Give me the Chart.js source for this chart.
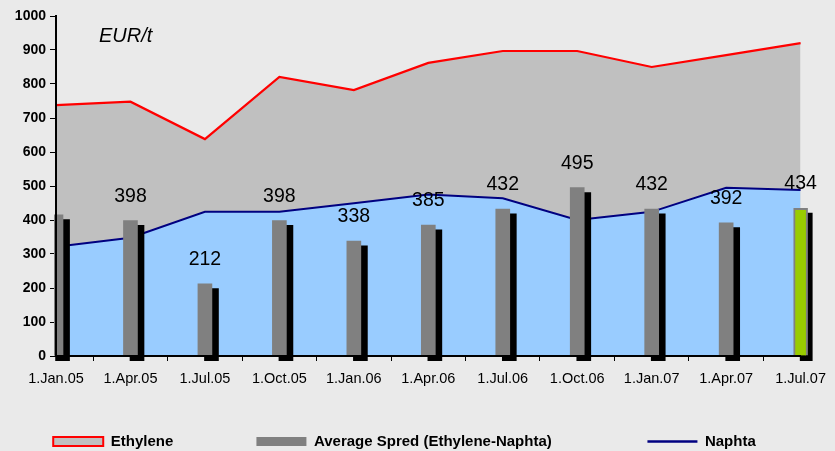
<!DOCTYPE html>
<html>
<head>
<meta charset="utf-8">
<script src="https://cdn.jsdelivr.net/npm/chart.js@4.4.1/dist/chart.umd.min.js"></script>
<style>
  html, body { margin: 0; padding: 0; background: #EAEAEA; }
  #wrap { width: 835px; height: 451px; position: relative; }
  canvas { display: block; }
</style>
</head>
<body>
<div id="wrap"><canvas id="c" width="835" height="451"></canvas></div>
<script>
// ---- data ----
const categories = ['1.Jan.05', '1.Apr.05', '1.Jul.05', '1.Oct.05', '1.Jan.06', '1.Apr.06', '1.Jul.06', '1.Oct.06', '1.Jan.07', '1.Apr.07', '1.Jul.07'];
const ethylene = [738, 748, 638, 821, 782, 862, 897, 897, 850, 885, 920];
const naphta = [321, 348, 424, 424, 449, 475, 464, 400, 424, 495, 488];
const spread = [415, 398, 212, 398, 338, 385, 432, 495, 432, 392, 434];
const spreadLabels = [null, 398, 212, 398, 338, 385, 432, 495, 432, 392, 434];
const yMin = 0;
const yMax = 1000;
const yStep = 100;
const unitLabel = 'EUR/t';
const seriesNames = ['Ethylene', 'Average Spred (Ethylene-Naphta)', 'Naphta'];

// ---- style ----
const FONT = '"Liberation Sans", Arial, Helvetica, sans-serif';
const shadowDX = 0.088;   // shadow shift in category units (hidden axis)
const shadowDY = 14;      // shadow shift in value units (hidden axis)
const lastIdx = spread.length - 1;

const valueLabels = {
  id: 'valueLabels',
  afterDatasetsDraw(chart) {
    const meta = chart.getDatasetMeta(3);
    const ctx = chart.ctx;
    ctx.save();
    ctx.font = '19.5px ' + FONT;
    ctx.fillStyle = '#000';
    ctx.textAlign = 'center';
    ctx.textBaseline = 'alphabetic';
    meta.data.forEach((bar, i) => {
      const v = spreadLabels[i];
      if (v === null || v === undefined) return;
      ctx.fillText(String(v), bar.x, bar.y - 19);
    });
    ctx.restore();
  },
  afterDraw(chart) {
    const ctx = chart.ctx;
    const a = chart.chartArea;
    ctx.save();
    ctx.font = 'italic 20px ' + FONT;
    ctx.fillStyle = '#000';
    ctx.textAlign = 'left';
    ctx.textBaseline = 'alphabetic';
    ctx.fillText(unitLabel, a.left + 43, a.top + 26);
    ctx.restore();
  }
};

new Chart(document.getElementById('c'), {
  type: 'line',
  data: {
    labels: categories,
    datasets: [
      {
        label: seriesNames[0],
        data: ethylene,
        borderColor: '#FF0000',
        borderWidth: 2.2,
        backgroundColor: '#C0C0C0',
        fill: 'origin',
        pointRadius: 0,
        tension: 0,
        order: 4
      },
      {
        label: seriesNames[2],
        data: naphta,
        borderColor: '#000080',
        borderWidth: 2,
        backgroundColor: '#99CCFF',
        fill: 'origin',
        pointRadius: 0,
        tension: 0,
        order: 3
      },
      {
        type: 'bar',
        label: 'shadow',
        data: spread.map((v, i) => ({ x: i, y: v })),
        xAxisID: 'xs',
        yAxisID: 'ys',
        grouped: false,
        backgroundColor: '#000000',
        borderWidth: 0,
        barThickness: 14,
        clip: { left: 2, right: 12, top: 5, bottom: 10 },
        order: 2
      },
      {
        type: 'bar',
        label: seriesNames[1],
        data: spread,
        grouped: false,
        backgroundColor: (c) => c.dataIndex === lastIdx ? '#99CC00' : '#808080',
        borderColor: '#808080',
        borderWidth: (c) => c.dataIndex === lastIdx ? 2 : 0,
        barThickness: 14,
        clip: { left: 2, right: 12, top: 5, bottom: 10 },
        order: 1
      }
    ]
  },
  options: {
    responsive: false,
    animation: false,
    devicePixelRatio: 1,
    layout: { padding: { left: 2, right: 28, top: 16, bottom: 0 } },
    scales: {
      x: {
        type: 'category',
        offset: false,
        grid: { display: true, drawOnChartArea: false, drawTicks: true, tickLength: 5, color: '#000', lineWidth: 1 },
        border: { display: true, color: '#000', width: 2, z: 1 },
        ticks: { color: '#000', font: { family: FONT, size: 14.5 }, padding: 9, maxRotation: 0, autoSkip: false },
        afterFit(s) { s.height = 74; }
      },
      xs: {
        type: 'linear',
        display: false,
        offset: false,
        min: -shadowDX,
        max: (categories.length - 1) - shadowDX
      },
      y: {
        min: yMin,
        max: yMax,
        ticks: {
          stepSize: yStep, color: '#000', font: { family: FONT, size: 14, weight: 'bold' }, padding: 4,
          callback: (v) => String(v)
        },
        grid: { display: true, drawOnChartArea: false, drawTicks: true, tickLength: 6, color: '#000', lineWidth: 1 },
        border: { display: true, color: '#000', width: 2, z: 1 },
        afterFit(s) { s.width = 54; }
      },
      ys: {
        type: 'linear',
        display: false,
        min: yMin + shadowDY,
        max: yMax + shadowDY
      }
    },
    plugins: {
      tooltip: { enabled: false },
      legend: {
        position: 'bottom',
        align: 'center',
        maxHeight: 21,
        labels: {
          usePointStyle: true,
          pointStyleWidth: 50,
          boxHeight: 9,
          padding: 4,
          color: '#000',
          font: { family: FONT, size: 15, weight: 'bold' },
          generateLabels() {
            const pad = (n) => ' '.repeat(n);
            return [
              { text: seriesNames[0] + pad(19), fillStyle: '#C0C0C0', strokeStyle: '#FF0000', lineWidth: 2, pointStyle: 'rect', datasetIndex: 0, fontColor: '#000' },
              { text: seriesNames[1] + pad(22), fillStyle: '#808080', strokeStyle: '#808080', lineWidth: 0, pointStyle: 'rect', datasetIndex: 3, fontColor: '#000' },
              { text: seriesNames[2], fillStyle: '#000080', strokeStyle: '#000080', lineWidth: 2.5, pointStyle: 'line', datasetIndex: 1, fontColor: '#000' }
            ];
          }
        }
      }
    }
  },
  plugins: [valueLabels]
});
</script>
</body>
</html>
